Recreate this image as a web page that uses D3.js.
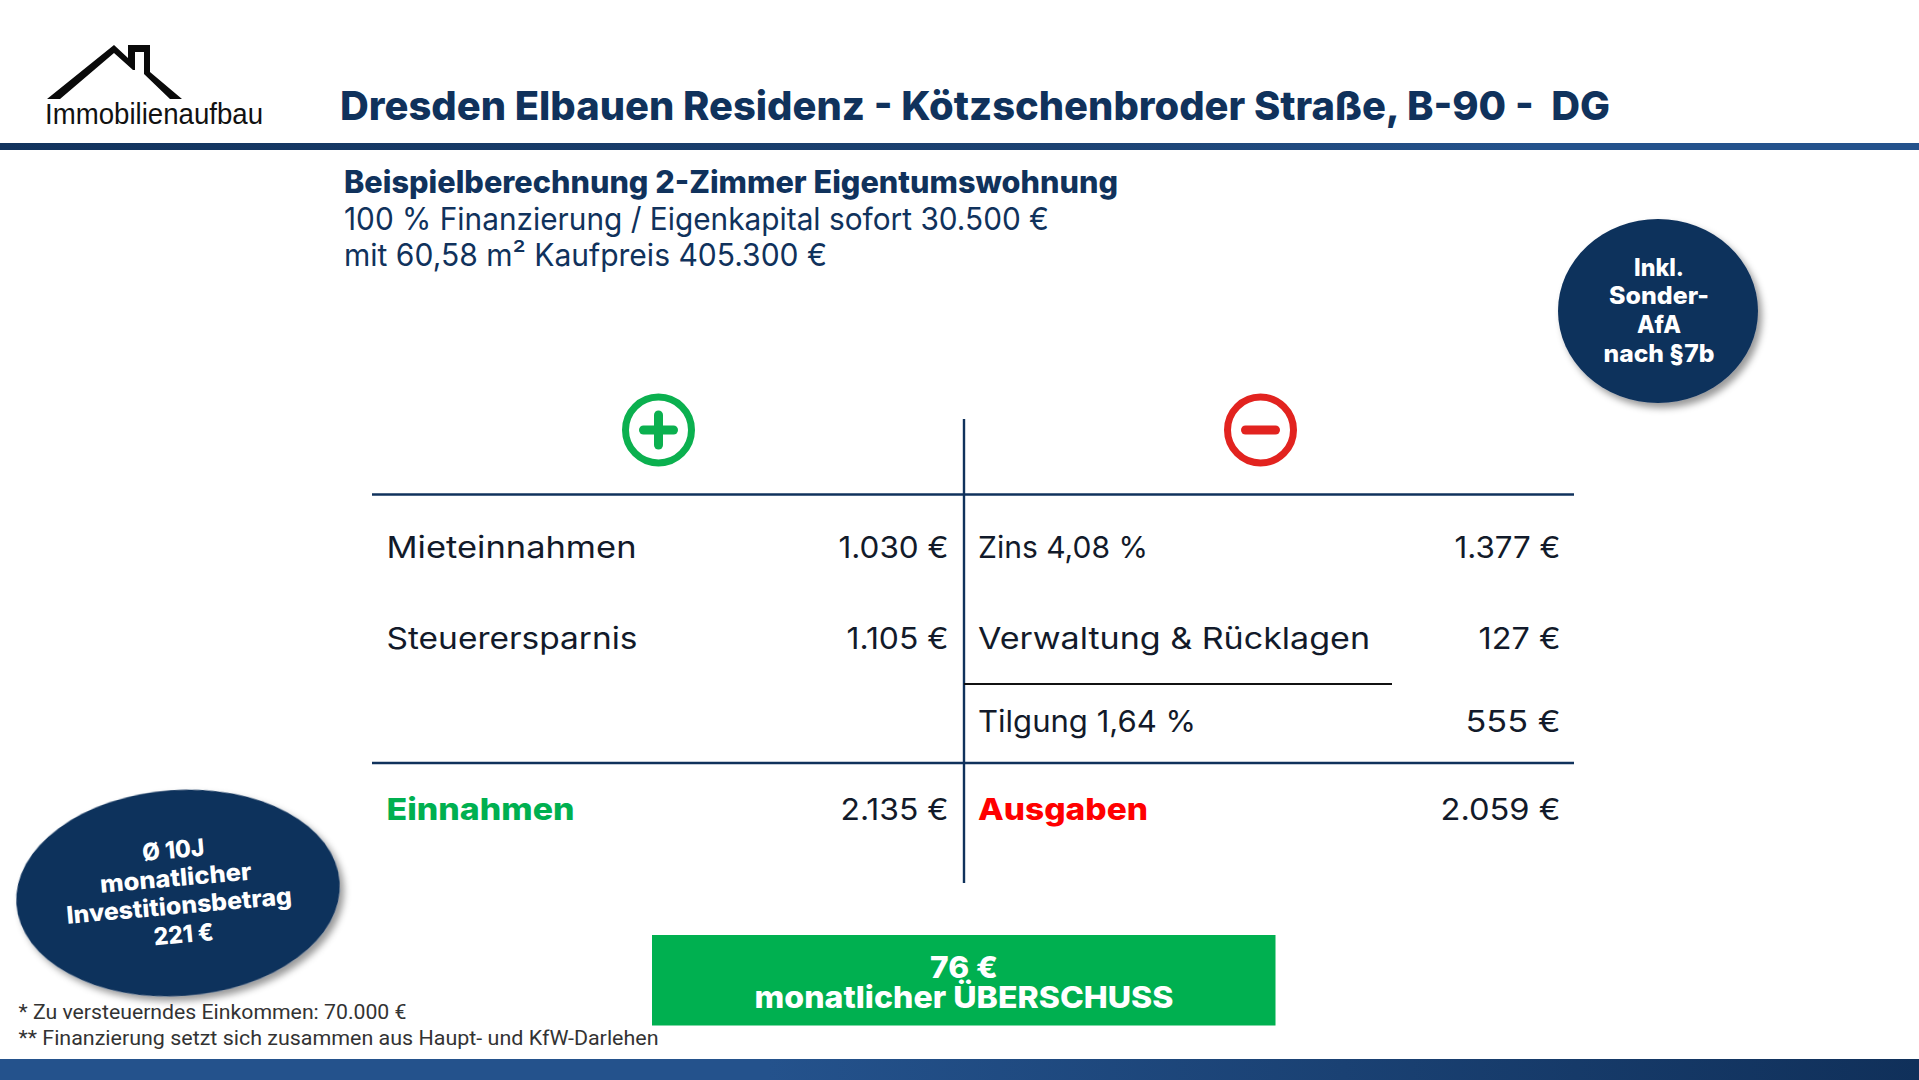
<!DOCTYPE html>
<html><head><meta charset="utf-8">
<style>html,body{margin:0;padding:0;background:#fff}svg{display:block}</style>
<script src="https://cdn.jsdelivr.net/npm/d3@7/dist/d3.min.js"></script>
</head><body><svg id="c" width="1919" height="1080"></svg>
<script>
// ---- data ----
const title = "Dresden Elbauen Residenz - Kötzschenbroder Straße, B-90 -  DG";
const subtitleLines = ["Beispielberechnung 2-Zimmer Eigentumswohnung","100 % Finanzierung / Eigenkapital sofort 30.500 €","mit 60,58 m² Kaufpreis 405.300 €"];
const incomeLabels = ["Mieteinnahmen","Steuerersparnis"];
const incomeValues = [1030,1105];
const expenseLabels = ["Zins 4,08 %","Verwaltung & Rücklagen","Tilgung 1,64 %"];
const expenseValues = [1377,127,555];
const totalLabels = ["Einnahmen","Ausgaben"];
const totalValues = [2135,2059];
const surplusValue = 76;
const surplusLabel = "monatlicher ÜBERSCHUSS";
const badgeRight = ["Inkl.","Sonder-","AfA","nach §7b"];
const badgeLeft = ["Ø 10J","monatlicher","Investitionsbetrag","221 €"];
const footnotes = ["* Zu versteuerndes Einkommen: 70.000 €","** Finanzierung setzt sich zusammen aus Haupt- und KfW-Darlehen"];
const logoText = "Immobilienaufbau";

// ---- helpers ----
const euro = v => d3.format(",")(v).replace(/,/g,".")+" €";
const svg = d3.select("#c");
const NAVY="#10325c", INK="#121a2a", GREEN="#00b050", RED="#ff0000", FONT="Inter, 'Open Sans', sans-serif";
const defs = svg.append("defs");
function grad(id,stops){
  const g=defs.append("linearGradient").attr("id",id).attr("x1","0").attr("x2","1").attr("y1","0").attr("y2","0");
  stops.forEach(([o,c])=>g.append("stop").attr("offset",o).attr("stop-color",c));
}
grad("topBar",[[0,"#12335d"],[0.55,"#1c4272"],[0.8,"#24528c"],[1,"#24528c"]]);
grad("botBar",[[0,"#24528c"],[0.4,"#24528c"],[1,"#10305a"]]);
const f=defs.append("filter").attr("id","sh").attr("x","-20%").attr("y","-20%").attr("width","140%").attr("height","140%");
f.append("feDropShadow").attr("dx",4).attr("dy",5).attr("stdDeviation",3.5).attr("flood-color","#000").attr("flood-opacity",0.4);

function txt(parent,t,x,y,o){
  const n=parent.append("text").text(t).attr("x",x).attr("y",y)
    .attr("font-family",o.family||FONT).attr("font-size",o.size).attr("font-weight",o.weight||400)
    .attr("fill",o.fill||INK).attr("text-anchor",o.anchor||"start").style("white-space","pre");
  if(o.width) n.attr("textLength",o.width).attr("lengthAdjust","spacingAndGlyphs");
  return n;
}

// ---- bars ----
svg.append("rect").attr("x",0).attr("y",143).attr("width",1919).attr("height",7).attr("fill","url(#topBar)");
svg.append("rect").attr("x",0).attr("y",1059).attr("width",1919).attr("height",21).attr("fill","url(#botBar)");

// ---- logo ----
const logoPts=[[47,99],[114,45],[128,58],[128,45],[150,45],[150,72],[182,99],[170,99],[144,74],[144,52],[135,52],[135,70],[133,70],[114,53],[60,99]];
svg.append("path").attr("d",d3.line().curve(d3.curveLinearClosed)(logoPts)).attr("fill","#0a0a0a");
txt(svg,logoText,45,124,{family:"'Liberation Sans',Arial,sans-serif",size:29,fill:"#111",width:218});

// ---- headings ----
txt(svg,title,340,120,{size:40,weight:800,fill:NAVY,width:1270});
const subW=[774,705,483], subY=[193,229.5,265.5];
subtitleLines.forEach((s,i)=>txt(svg,s,344,subY[i],{size:31,weight:i?400:800,fill:NAVY,width:subW[i]}));

// ---- table frame ----
const x=d3.scaleLinear().domain([0,1]).range([372,1574]);
const midX=964;
const rowNames=["r0","r1","r2","total"];
const rowY=d3.scaleOrdinal().domain(rowNames).range([558,649,732,819.5]);
const lines=[[x(0),494.5,x(1),494.5,NAVY,2.4],[x(0),763,x(1),763,NAVY,2.4],[midX,419,midX,883,NAVY,2.4],[midX,684,1392,684,"#111",2]];
svg.selectAll("line.t").data(lines).join("line").attr("class","t")
  .attr("x1",d=>d[0]).attr("y1",d=>d[1]).attr("x2",d=>d[2]).attr("y2",d=>d[3]).attr("stroke",d=>d[4]).attr("stroke-width",d=>d[5]);

// ---- icons ----
[[658.5,"#0bb04f",true],[1260.5,"#e2231f",false]].forEach(([cx,col,plus])=>{
  const g=svg.append("g").attr("transform",`translate(${cx},430)`);
  g.append("circle").attr("r",33).attr("fill","none").attr("stroke",col).attr("stroke-width",7);
  g.append("rect").attr("x",-19.5).attr("y",-4.5).attr("width",39).attr("height",9).attr("rx",4.5).attr("fill",col);
  if(plus) g.append("rect").attr("x",-4.5).attr("y",-19.5).attr("width",9).attr("height",39).attr("rx",4.5).attr("fill",col);
});

// ---- rows ----
const LX=386.5, LV=948.5, RX=978, RV=1560.5, SZ=30;
const wIncL=[250,251], wIncV=[110,102], wExpL=[170,392,218], wExpV=[106,82,95];
incomeLabels.forEach((l,i)=>{
  txt(svg,l,LX,rowY(rowNames[i]),{size:SZ,width:wIncL[i]});
  txt(svg,euro(incomeValues[i]),LV,rowY(rowNames[i]),{size:SZ,anchor:"end",width:wIncV[i]});
});
expenseLabels.forEach((l,i)=>{
  txt(svg,l,RX,rowY(rowNames[i]),{size:SZ,width:wExpL[i]});
  txt(svg,euro(expenseValues[i]),RV,rowY(rowNames[i]),{size:SZ,anchor:"end",width:wExpV[i]});
});
txt(svg,totalLabels[0],LX,rowY("total"),{size:SZ,weight:800,fill:GREEN,width:188});
txt(svg,euro(totalValues[0]),LV,rowY("total"),{size:SZ,anchor:"end",width:108});
txt(svg,totalLabels[1],RX,rowY("total"),{size:SZ,weight:800,fill:RED,width:170});
txt(svg,euro(totalValues[1]),RV,rowY("total"),{size:SZ,anchor:"end",width:120});

// ---- surplus ----
svg.append("rect").attr("x",652).attr("y",935).attr("width",623.5).attr("height",90.5).attr("fill",GREEN);
txt(svg,euro(surplusValue),midX,978,{size:30,weight:800,fill:"#fff",anchor:"middle",width:68});
txt(svg,surplusLabel,midX,1007.5,{size:30,weight:800,fill:"#fff",anchor:"middle",width:419});

// ---- badges ----
svg.append("ellipse").attr("cx",1658).attr("cy",311).attr("rx",100).attr("ry",92).attr("fill",NAVY).attr("filter","url(#sh)");
const brY=[276,304,333,362], brW=[50,100,44,111];
badgeRight.forEach((s,i)=>txt(svg,s,1659,brY[i],{size:24,weight:800,fill:"#fff",anchor:"middle",width:brW[i]}));

svg.append("ellipse").attr("cx",178).attr("cy",893).attr("rx",162).attr("ry",103).attr("fill",NAVY).attr("filter","url(#sh)").attr("transform","rotate(-4 178 893)");
const blG=svg.append("g").attr("transform","rotate(-5 178 893)");
const blY=[858,886,914,943], blX=[177,177,178,180], blW=[62,152,226,60];
badgeLeft.forEach((s,i)=>txt(blG,s,blX[i],blY[i],{size:24,weight:800,fill:"#fff",anchor:"middle",width:blW[i]}));

// ---- footnotes ----
const fnY=[1019,1045], fnW=[388,640];
footnotes.forEach((s,i)=>txt(svg,s,18.5,fnY[i],{family:"Roboto,sans-serif",size:20,fill:"#333",width:fnW[i]}));
</script></body></html>
